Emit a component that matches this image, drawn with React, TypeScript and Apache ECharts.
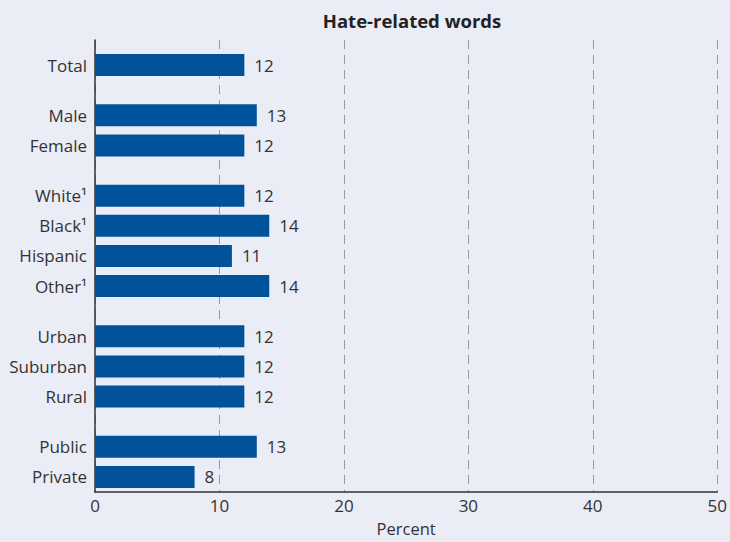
import React, { useEffect, useRef } from "react";
import * as echarts from "echarts";

const title = "Hate-related words";
const categories = ["Total", "Male", "Female", "White¹", "Black¹", "Hispanic", "Other¹", "Urban", "Suburban", "Rural", "Public", "Private"];
const values = [12, 13, 12, 12, 14, 11, 14, 12, 12, 12, 13, 8];
const groupSizes = [1, 2, 4, 3, 2];
const xTicks = [0, 10, 20, 30, 40, 50];

const FONT = "'Open Sans', 'DejaVu Sans', sans-serif";

function buildSlots() {
  const names: string[] = [];
  const data: (number | null)[] = [];
  let blank = 0;
  const addBlank = () => {
    names.push("__" + blank++);
    data.push(null);
  };
  addBlank();
  let k = 0;
  groupSizes.forEach((size, gi) => {
    if (gi > 0) {
      addBlank();
      addBlank();
    }
    for (let i = 0; i < size; i++) {
      addBlank();
      names.push(categories[k]);
      data.push(values[k]);
      addBlank();
      k++;
    }
  });
  return { names, data };
}

export default function App() {
  const ref = useRef<HTMLDivElement>(null);
  useEffect(() => {
    if (!ref.current) return;
    const chart = echarts.init(ref.current, null, { renderer: "svg" });
    const { names, data } = buildSlots();
    chart.setOption({
      animation: false,
      backgroundColor: "#EAECF6",
      title: {
        text: title,
        left: 407,
        textAlign: "center",
        top: 6,
        textStyle: { fontFamily: FONT, fontSize: 18.5, fontWeight: "bold", color: "#222" },
      },
      grid: { left: 95, right: 12, top: 40, bottom: 47 },
      xAxis: {
        type: "value",
        min: xTicks[0],
        max: xTicks[xTicks.length - 1],
        interval: 10,
        axisLine: { show: true, lineStyle: { color: "#333", width: 1.5 } },
        axisTick: { show: false },
        axisLabel: { fontFamily: FONT, fontSize: 17, color: "#333", margin: 5 },
        splitLine: { show: true, lineStyle: { color: "#9a9a9a", type: [9, 6], width: 1 } },
        name: "Percent",
        nameLocation: "middle",
        nameGap: 28,
        nameTextStyle: { fontFamily: FONT, fontSize: 16.5, color: "#333" },
      },
      yAxis: {
        type: "category",
        inverse: true,
        data: names,
        axisLine: { show: true, lineStyle: { color: "#333", width: 1.5 } },
        axisTick: { show: false },
        axisLabel: {
          interval: 0,
          fontFamily: FONT,
          fontSize: 17,
          color: "#333",
          margin: 8,
          formatter: (v: string) => (v.startsWith("__") ? "" : v),
        },
        splitLine: { show: false },
      },
      series: [
        {
          type: "bar",
          data,
          barWidth: 22,
          itemStyle: { color: "#00529B" },
          label: {
            show: true,
            position: "right",
            distance: 10,
            fontFamily: FONT,
            fontSize: 17,
            color: "#333",
          },
        },
      ],
    });
    return () => chart.dispose();
  }, []);
  return <div ref={ref} style={{ width: 730, height: 542, position: "absolute", left: 0, top: 0 }} />;
}
